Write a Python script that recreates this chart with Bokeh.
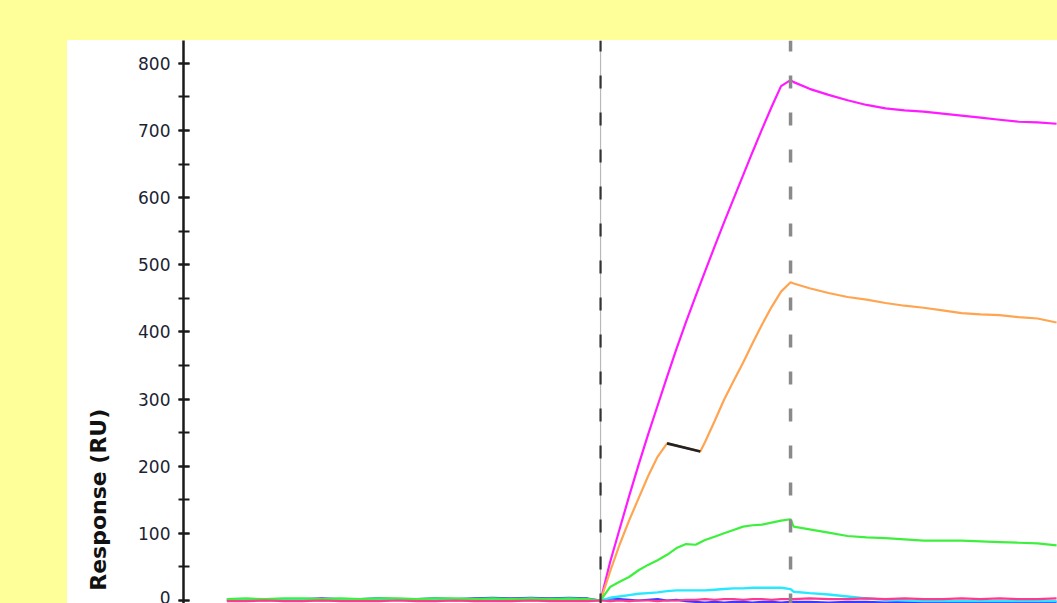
import numpy as np
from bokeh.plotting import figure
from bokeh.models import Range1d, SingleIntervalTicker
from bokeh.core.properties import value
from bokeh.layouts import column, row
from bokeh.embed import file_html
from bokeh.resources import INLINE

# ---------------- data (time in s, response in RU) ----------------
inject_start = 0
inject_end = 120

t_base = [-236, -224, -212, -200, -188, -176, -164, -152, -140, -128,
          -116, -104, -92, -80, -68, -56, -44, -32, -20, -8]
t_assoc = [0, 6, 12, 18, 24, 30, 36, 42, 48, 54, 60, 66, 72, 78, 84, 90,
           96, 102, 108, 114, 120]
t_diss = [122, 132, 144, 156, 168, 180, 192, 204, 216, 228, 240, 252, 264, 276, 288]

magenta_base = [0, 1, 0, 1, 1, 0, 1, 0, 1, 1, 0, 1, 0, 1, 1, 0, 1, 0, 1, 0]
magenta_assoc = [0, 57, 106, 155, 202, 247, 290, 333, 375, 415, 453, 490, 527,
                 563, 598, 633, 668, 702, 735, 766, 775]
magenta_diss = [772, 762, 753, 745, 738, 733, 730, 728, 725, 722, 719, 716, 713, 712, 710]

orange_base = [1, 0, 1, 1, 0, 1, 0, 1, 0, 1, 1, 0, 1, 0, 0, 1, 0, 1, 0, 1]
t_orange_assoc = [0, 6, 12, 18, 24, 30, 36, 42, 63, 66, 72, 78, 84, 90, 96,
                  102, 108, 114, 120]
orange_assoc = [0, 43, 83, 119, 152, 185, 214, 234, 222, 236, 267, 299, 327,
                354, 383, 411, 437, 460, 474]
orange_diss = [472, 465, 458, 452, 448, 443, 439, 436, 432, 428, 426, 425, 422, 420, 414]

gap_t = [42, 63]
gap_v = [234, 222]

green_base = [2, 3, 2, 3, 3, 2, 3, 2, 3, 3, 2, 3, 3, 2, 3, 2, 3, 2, 3, 2]
green_assoc = [0, 20, 28, 35, 45, 53, 60, 68, 78, 84, 83, 90, 95, 100, 105,
               110, 112, 113, 116, 119, 121]
green_diss = [110, 106, 101, 96, 94, 93, 91, 89, 89, 89, 88, 87, 86, 85, 82]

cyan_base = [1, 2, 1, 2, 1, 2, 2, 1, 2, 1, 2, 1, 2, 2, 1, 2, 1, 2, 1, 1]
cyan_assoc = [0, 4, 6, 8, 10, 11, 12, 14, 15, 15, 15, 15, 16, 17, 18, 18,
              19, 19, 19, 19, 17]
cyan_diss = [13, 11, 9, 6, 3, 1, 0, -1, -1, -1, -1, -1, -1, -1, -1]

blue_base = [1, 2, 2, 1, 2, 3, 2, 2, 3, 2, 2, 3, 2, 3, 4, 3, 4, 3, 4, 3]
blue_assoc = [0, 3, 2, 1, 0, 1, 2, 0, 1, -1, -2, -3, -2, -3, -2, -2, -3,
              -2, -2, -3, -2]
blue_diss = [-2, -2, -3, -2, -2, -3, -2, -2, -3, -2, -2, -3, -2, -2, -2]

pink_base = [-1, -1, 0, -1, -1, 0, -1, -1, -1, 0, -1, -1, 0, -1, -1, -1, 0, -1, -1, -1]
pink_assoc = [0, -1, 0, -1, 0, 0, -1, 0, 0, 1, 1, 2, 1, 2, 2, 1, 2, 2, 1, 2, 2]
pink_diss = [2, 3, 2, 2, 3, 2, 3, 2, 2, 3, 2, 3, 2, 2, 3]

y_ticks_interval = 100
y_label = "Response (RU)"
y_label_pos = 150

# ---------------- figure ----------------
X_MIN, X_MAX = -263.4, 288.6
Y_MIN, Y_MAX = -4.5, 834

p = figure(width=932, height=563, output_backend="svg", toolbar_location=None,
           x_range=Range1d(X_MIN, X_MAX), y_range=Range1d(Y_MIN, Y_MAX),
           x_axis_location=None,
           min_border_left=58, min_border_right=0, min_border_top=0,
           min_border_bottom=0, border_fill_color="white",
           background_fill_color="white", outline_line_color=None)
p.grid.visible = False

ax = p.yaxis[0]
ax.ticker = SingleIntervalTicker(interval=y_ticks_interval, num_minor_ticks=2)
ax.axis_line_color = "#1a1a1a"
ax.axis_line_width = 2.5
ax.major_tick_line_color = "#1a1a1a"
ax.major_tick_line_width = 2
ax.major_tick_in = 6
ax.major_tick_out = 5
ax.minor_tick_line_color = "#1a1a1a"
ax.minor_tick_line_width = 2
ax.minor_tick_in = 6
ax.minor_tick_out = 5
ax.major_label_text_font = "DejaVu Sans"
ax.major_label_text_font_size = "17px"
ax.major_label_text_color = "#1b2333"
ax.major_label_standoff = 8


def series(base, t_a, assoc, diss):
    return (list(t_base) + list(t_a) + list(t_diss), list(base) + list(assoc) + list(diss))


lw = 2.2
tb, vb = series(blue_base, t_assoc, blue_assoc, blue_diss)
p.line(tb, vb, line_color="#3b3bff", line_width=lw)
tm, vm = series(magenta_base, t_assoc, magenta_assoc, magenta_diss)
p.line(tm, vm, line_color="#ff1aff", line_width=lw)
to, vo = series(orange_base, t_orange_assoc, orange_assoc, orange_diss)
p.line(to, vo, line_color="#ffa450", line_width=lw)
p.line(gap_t, gap_v, line_color="#222222", line_width=2.6)
tc, vc = series(cyan_base, t_assoc, cyan_assoc, cyan_diss)
p.line(tc, vc, line_color="#28e8ff", line_width=2.4)
tg, vg = series(green_base, t_assoc, green_assoc, green_diss)
p.line(tg, vg, line_color="#3ef03e", line_width=lw)
tp, vp = series(pink_base, t_assoc, pink_assoc, pink_diss)
p.line(tp, vp, line_color="#ff3a8c", line_width=lw)

# injection markers
p.segment(x0=[inject_start], y0=[Y_MAX], x1=[inject_start], y1=[Y_MIN],
          line_color="#b8b8b8", line_width=1.2)
p.segment(x0=[inject_start], y0=[Y_MAX], x1=[inject_start], y1=[Y_MIN],
          line_color="#333333", line_width=2.2, line_dash="13 24", line_dash_offset=2)
p.segment(x0=[inject_end], y0=[Y_MAX], x1=[inject_end], y1=[Y_MIN],
          line_color="#8a8a8a", line_width=3.5, line_dash="13 24", line_dash_offset=2)

# ---------------- axis title panel ----------------
lab = figure(width=58, height=563, output_backend="svg", toolbar_location=None,
             x_range=Range1d(0, 58), y_range=Range1d(Y_MIN, Y_MAX),
             x_axis_location=None, y_axis_location=None,
             min_border=0, border_fill_color="white",
             background_fill_color="white", outline_line_color=None)
lab.grid.visible = False
lab.text(x=[31], y=[y_label_pos], text=[y_label], angle=np.pi / 2,
         text_align="center", text_baseline="middle",
         text_font=value("DejaVu Sans"), text_font_style="bold",
         text_font_size="22px", text_color="#111111")

inner = row(lab, p, margin=(40, 0, 0, 67), spacing=0,
            styles={"background-color": "white"})
layout = column(inner, width=1057, height=603,
                styles={"background-color": "#FFFF99"})

open("out.html", "w").write(file_html(layout, INLINE))
